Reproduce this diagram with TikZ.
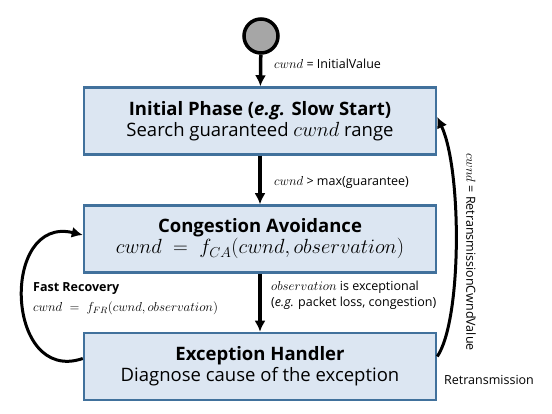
\RequirePackage{fix-cm}
\documentclass[tikz,border=0pt]{standalone}
\usepackage{amsmath}
\usepackage{fontspec}
\setmainfont{Open Sans}
\usetikzlibrary{arrows.meta}
\definecolor{phasefill}{HTML}{DCE6F2}
\definecolor{phaseline}{HTML}{41719C}
\tikzstyle{phase}=[rectangle,draw=phaseline,fill=phasefill,line width=2.5pt,
minimum width=352pt,minimum height=67pt,align=center,
font=\fontsize{18.5}{21}\selectfont]
\tikzstyle{start}=[circle,draw=black,fill=black!35,line width=3.5pt,
minimum size=34pt,inner sep=0pt]
\tikzstyle{note}=[inner sep=0pt,anchor=west,font=\fontsize{12.5}{15}\selectfont]
\newcommand{\bigmath}[1]{{\fontsize{20.5}{21}\selectfont$#1$}}
\newcommand{\notemath}[1]{{\fontsize{13}{15}\selectfont$#1$}}

\begin{document}
\begin{tikzpicture}[x=1pt,y=-1pt,>={Latex[length=11pt,width=11pt]}]
  \useasboundingbox (0,0) rectangle (552,414);
  % states of the controller
  \node (begin) [start] at (261,36) {};
  \node (init) [phase] at (260,121)
    {\textbf{Initial Phase (\textit{e.g.} Slow Start)}\\
     Search guaranteed \bigmath{cwnd} range};
  \node (avoid) [phase] at (260,239)
    {\textbf{Congestion Avoidance}\\
     \bigmath{cwnd\;=\;f_{CA}(cwnd,observation)}};
  \node (except) [phase] at (260,366.5)
    {\textbf{Exception Handler}\\
     Diagnose cause of the exception};
  % labels of the transitions
  \node (l_init) [note] at (274,64) {\notemath{cwnd} = InitialValue};
  \node (l_guar) [note] at (274,182) {\notemath{cwnd} > max(guarantee)};
  \node (l_obs) [note,align=left,font=\fontsize{12.5}{16}\selectfont] at (271,295)
    {\notemath{observation} is exceptional\\(\textit{e.g.} packet loss, congestion)};
  \node (l_fast) [note,font=\fontsize{12.5}{15}\selectfont\bfseries] at (33,289) {Fast Recovery};
  \node (l_fr) [note] at (33,308) {\notemath{cwnd\;=\;f_{FR}(cwnd,observation)}};
  \node (l_retv) [note,anchor=center,rotate=-90] at (471,252)
    {\notemath{cwnd} = RetransmissionCwndValue};
  \node (l_ret) [note] at (444,380) {Retransmission};
  % the states are now connected through arrows:
  \draw[->,line width=3.5pt] (begin) -- (init);
  \draw[->,line width=3.5pt] (init) -- (avoid);
  \draw[->,line width=3.5pt] (avoid) -- (except);
  \draw[->,line width=3pt] ([yshift=8pt]except.west)
    .. controls (5,385) and (0,215) .. ([yshift=4pt]avoid.west);
  \draw[->,line width=3pt] ([yshift=10pt]except.east)
    .. controls (462,320) and (462,170) .. ([yshift=4pt]init.east);
\end{tikzpicture}
\end{document}
